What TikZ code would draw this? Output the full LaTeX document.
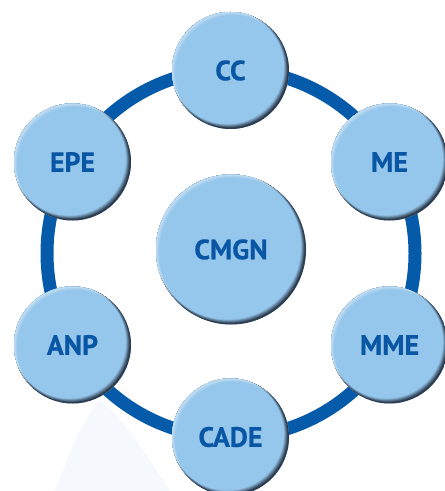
\documentclass[tikz,border=0pt]{standalone}
\usepackage{fontspec}
\newfontfamily\lblfont{PT Sans}[BoldFeatures={FakeBold=0.6}]
\definecolor{ballfill}{RGB}{149,198,235}
\definecolor{balldark}{RGB}{45,60,78}
\definecolor{ringblue}{RGB}{6,90,170}
\definecolor{txtblue}{RGB}{8,86,164}
\definecolor{faint}{RGB}{245,248,252}
\tikzset{
  ball/.style={circle, inner sep=0pt, minimum size=2*#1*1bp, fill=ballfill,
    text=txtblue, font=\lblfont\bfseries\fontsize{28}{28}\selectfont,
    path picture={
      \fill[balldark] (path picture bounding box.center) circle[radius=(#1+2)*1bp];
      \foreach \k in {0,...,16}{
        \pgfmathsetmacro{\t}{\k/16}
        \pgfmathsetmacro{\p}{100*min(1,1.4*\t)}
        \fill[ballfill!\p!balldark]
          ([xshift=-3*\t bp-1bp, yshift=3*\t bp+1bp]path picture bounding box.center)
          circle[radius=(#1-2.6*\t)*1bp];
      }
      \foreach \k/\o in {1.2/0.22,2.2/0.15,3.2/0.1}{
        \fill[white, opacity=\o, even odd rule]
          (path picture bounding box.center) circle[radius=(#1+1)*1bp]
          ([xshift=\k bp, yshift=-\k bp]path picture bounding box.center) circle[radius=#1*1bp];
      }
    }},
  ring/.style={draw=ringblue, line width=13bp}
}
\begin{document}
\begin{tikzpicture}[x=1bp,y=-1bp]
\useasboundingbox (0,0) rectangle (445,491);
\clip (0,0) rectangle (445,491);
% faint background shape
\fill[faint] (55,491) .. controls (70,450) and (85,415) .. (100,400)
  .. controls (125,420) and (150,460) .. (170,491) -- cycle;
\coordinate (ringc) at (231,253.5);
\draw[ring] (ringc) circle[radius=184];
\node[ball=58.5] (cc)   at (230.5,70.5) {CC};
\node[ball=58.5] (me)   at (389.5,162)  {ME};
\node[ball=58.5] (epe)  at (72.5,162)   {EPE};
\node[ball=58.5] (anp)  at (72.5,345)   {ANP};
\node[ball=58.5] (mme)  at (389.5,345)  {MME};
\node[ball=58.5] (cade) at (230.5,437)  {CADE};
\node[ball=75]   (cmgn) at (231,249.5)  {CMGN};
\end{tikzpicture}
\end{document}
